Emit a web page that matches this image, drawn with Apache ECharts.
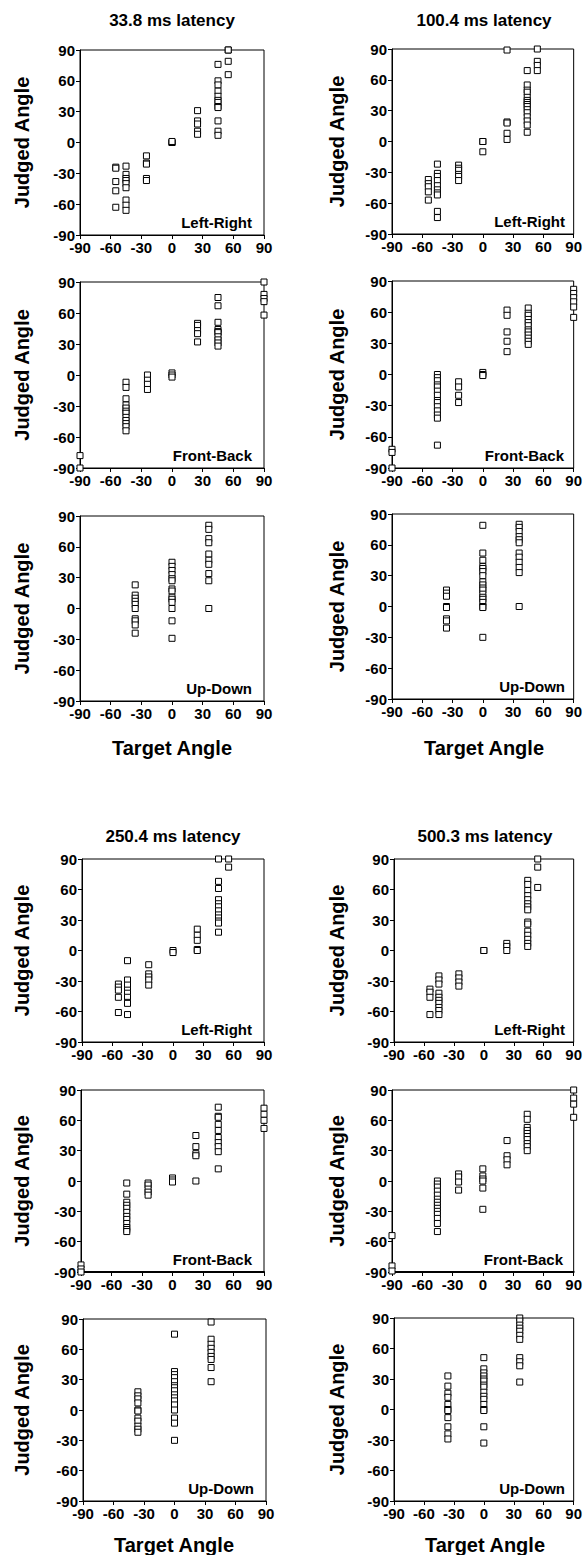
<!DOCTYPE html>
<html><head><meta charset="utf-8">
<script src="https://cdn.jsdelivr.net/npm/echarts/dist/echarts.min.js"></script>
<style>html,body{margin:0;padding:0;background:#fff}#c{width:585px;height:1555px}</style>
</head><body><div id="c"></div>
<script>
const latencyTitles = ['33.8 ms latency', '100.4 ms latency', '250.4 ms latency', '500.3 ms latency'];
const directionLabels = ['Left-Right', 'Front-Back', 'Up-Down'];
const xAxisName = 'Target Angle';
const yAxisName = 'Judged Angle';
const tickMin = -90, tickMax = 90, tickStep = 30;

// Each entry: [target angle, [judged angles...]]
const lr_33_8 = [[-55, [-24, -25, -38, -47, -63]], [-45, [-23, -31, -35, -37, -40, -44, -56, -61, -66]], [-25, [-13, -20, -21, -35, -37]], [0, [0, 0, 1]], [25, [31, 21, 18, 11, 8]], [45, [76, 60, 56, 50, 45, 41, 39, 35, 34, 21, 11, 7]], [55, [90, 90, 79, 66]]];
const lr_100_4 = [[-54, [-37, -41, -44, -49, -57]], [-45, [-22, -31, -34, -38, -43, -47, -50, -52, -68, -74]], [-24, [-23, -26, -28, -32, -34, -38]], [0, [0, 0, -10]], [24, [89, 19, 18, 8, 2]], [44, [69, 55, 50, 48, 43, 40, 38, 36, 34, 31, 28, 24, 20, 16, 9]], [54, [90, 78, 74, 69]]];
const fb_33_8 = [[-90, [-78, -90]], [-45, [-7, -12, -23, -29, -32, -35, -37, -41, -44, -47, -50, -54]], [-24, [0, -5, -9, -14]], [0, [2, 0, -2]], [25, [50, 48, 43, 40, 32]], [45, [75, 67, 51, 44, 42, 41, 37, 34, 31, 28]], [90, [90, 78, 74, 71, 58]]];
const fb_100_4 = [[-90, [-72, -75, -90]], [-45, [0, -3, -6, -10, -12, -16, -20, -25, -27, -31, -35, -39, -42, -68]], [-24, [-7, -12, -20, -27]], [0, [2, 0, -1]], [24, [62, 57, 41, 32, 22]], [45, [64, 59, 57, 53, 50, 47, 43, 41, 38, 35, 32, 29]], [90, [82, 78, 74, 70, 65, 55]]];
const ud_33_8 = [[-36, [23, 13, 10, 7, 4, 0, -10, -12, -16, -24]], [0, [45, 41, 37, 33, 29, 27, 19, 17, 11, 9, 6, 0, -12, -29]], [36, [81, 77, 68, 64, 53, 47, 43, 34, 27, 0]]];
const ud_100_4 = [[-36, [16, 13, 10, 0, -1, -12, -14, -21]], [0, [79, 52, 45, 39, 37, 34, 30, 24, 21, 18, 16, 12, 9, 7, 4, 0, -1, -30]], [36, [80, 77, 73, 68, 65, 62, 52, 48, 43, 38, 33, 0]]];
const lr_250_4 = [[-54, [-33, -36, -39, -46, -61]], [-45, [-10, -29, -34, -39, -42, -46, -51, -52, -63]], [-24, [-14, -23, -26, -29, -34]], [0, [0, -2]], [24, [21, 15, 10, 1, 0]], [45, [90, 68, 61, 50, 46, 43, 39, 35, 32, 29, 27, 18]], [55, [90, 82]]];
const lr_500_3 = [[-54, [-38, -41, -46, -63]], [-45, [-25, -29, -33, -42, -46, -49, -52, -56, -59, -63]], [-25, [-23, -27, -31, -35]], [0, [0, 0]], [23, [7, 4, 0]], [44, [69, 65, 59, 54, 50, 46, 43, 40, 28, 26, 19, 15, 11, 7, 4]], [54, [90, 82, 62]]];
const fb_250_4 = [[-90, [-83, -87, -90]], [-45, [-2, -13, -21, -24, -27, -31, -35, -38, -42, -46, -48, -50]], [-24, [-2, -4, -8, -11, -14]], [0, [3, 1, -1]], [23, [45, 34, 27, 25, 0]], [45, [73, 64, 63, 56, 50, 43, 38, 34, 29, 12]], [90, [72, 66, 60, 52]]];
const fb_500_3 = [[-90, [-54, -84, -89]], [-45, [0, -3, -6, -10, -14, -18, -21, -24, -27, -30, -33, -37, -42, -50]], [-24, [7, 4, -1, -9]], [0, [12, 5, 2, 0, -7, -28]], [24, [40, 25, 21, 16]], [44, [66, 61, 53, 50, 47, 44, 41, 37, 34, 30]], [90, [90, 82, 76, 63]]];
const ud_250_4 = [[-36, [18, 14, 11, 7, 0, -1, -8, -11, -16, -19, -22]], [0, [75, 38, 35, 32, 28, 24, 22, 19, 15, 12, 9, 5, 0, -8, -13, -30]], [36, [87, 70, 65, 61, 57, 53, 50, 42, 28]]];
const ud_500_3 = [[-36, [33, 23, 16, 12, 5, 0, -1, -8, -17, -24, -29]], [0, [51, 40, 36, 33, 30, 28, 24, 22, 17, 13, 10, 5, 0, -1, -17, -33]], [36, [90, 87, 83, 80, 77, 73, 69, 51, 47, 43, 27]]];

// panel layout: [data, label index, left, top, width, height, bottom line width]
const panels = [
  [lr_33_8, 0, 80, 50, 184, 185, 1], [lr_100_4, 0, 392, 49, 185, 185, 1],
  [fb_33_8, 1, 80, 282, 184, 186, 1], [fb_100_4, 1, 392, 281, 184, 187, 1],
  [ud_33_8, 2, 80, 516, 184, 185, 1], [ud_100_4, 2, 392, 514, 185, 185, 1],
  [lr_250_4, 0, 82, 859, 182, 183, 1], [lr_500_3, 0, 394, 859, 183, 183, 1],
  [fb_250_4, 1, 81, 1090, 183, 182, 2], [fb_500_3, 1, 392, 1090, 183, 182, 2],
  [ud_250_4, 2, 83, 1319, 183, 182, 1], [ud_500_3, 2, 394, 1318, 183, 183, 1]
];

const FONT = 'Liberation Sans, Arial, sans-serif';
const grids = [], xAxes = [], yAxes = [], series = [], graphics = [];

function txt(x, y, text, size, opts) {
  const o = Object.assign({align: 'center', vAlign: 'middle', rot: 0}, opts || {});
  graphics.push({
    type: 'text', x: x, y: y, rotation: o.rot, silent: true,
    style: {
      text: text, x: 0, y: 0, fill: '#000',
      font: 'bold ' + size + 'px ' + FONT,
      align: o.align, verticalAlign: o.vAlign,
      textAlign: o.align, textVerticalAlign: o.vAlign
    }
  });
}

function axis(i, lw) {
  return {
    type: 'value', gridIndex: i, min: tickMin, max: tickMax, interval: tickStep,
    axisLine: {show: true, onZero: false, lineStyle: {color: '#000', width: lw}},
    axisTick: {show: true, inside: false, length: 4, lineStyle: {color: '#000', width: 1}},
    axisLabel: {color: '#000', fontWeight: 'bold', fontSize: 15, fontFamily: FONT, margin: 5},
    splitLine: {show: false}
  };
}

panels.forEach((p, i) => {
  const [data, li, left, top, w, h, blw] = p;
  grids.push({left: left, top: top, width: w, height: h, show: true, borderColor: '#000', borderWidth: 1, backgroundColor: 'transparent', containLabel: false});
  xAxes.push(axis(i, blw));
  yAxes.push(axis(i, 1));
  const pts = [];
  data.forEach(([t, ys]) => ys.forEach(v => pts.push([t, v])));
  series.push({
    type: 'scatter', xAxisIndex: i, yAxisIndex: i, data: pts, clip: false,
    symbol: 'rect', symbolSize: 6,
    itemStyle: {color: '#fff', borderColor: '#000', borderWidth: 1, opacity: 1},
    emphasis: {disabled: true}, z: 5
  });
  txt(left + w - 12, top + h - 13, directionLabels[li], 15, {align: 'right'});
  const yx = (left < 200) ? 22 : 337;
  txt(yx, top + h / 2, yAxisName, 20, {rot: Math.PI / 2});
});

txt(172, 20, latencyTitles[0], 17);
txt(484, 20, latencyTitles[1], 17);
txt(173, 836, latencyTitles[2], 17);
txt(485, 836, latencyTitles[3], 17);
txt(172, 748, xAxisName, 20);
txt(484, 748, xAxisName, 20);
txt(174, 1545, xAxisName, 20);
txt(485, 1545, xAxisName, 20);

const chart = echarts.init(document.getElementById('c'), null, {renderer: 'svg', width: 585, height: 1555});
chart.setOption({
  animation: false,
  backgroundColor: '#fff',
  grid: grids, xAxis: xAxes, yAxis: yAxes, series: series,
  graphic: {elements: graphics}
});
</script></body></html>
